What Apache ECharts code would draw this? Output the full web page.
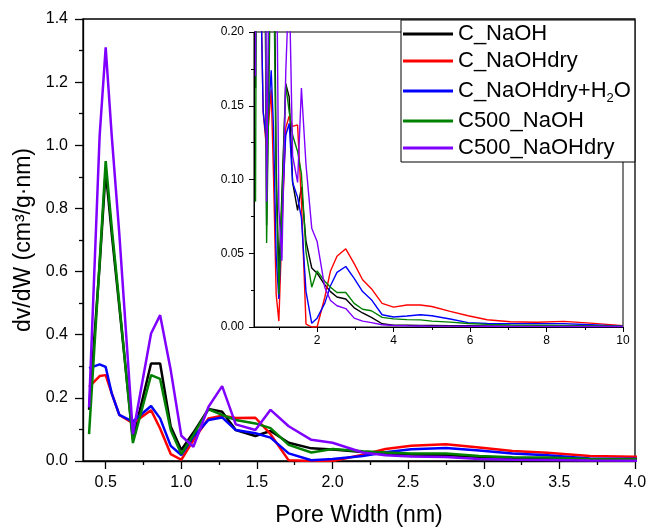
<!DOCTYPE html>
<html>
<head>
<meta charset="utf-8">
<script src="https://cdn.jsdelivr.net/npm/echarts@6.0.0/dist/echarts.min.js"></script>
<style>
  html, body { margin: 0; padding: 0; background: #fff; }
  #chart { width: 650px; height: 531px; }
</style>
</head>
<body>
<div id="chart"></div>
<script>
var myChart = echarts.init(document.getElementById('chart'));

var FONT = 'Liberation Sans, Arial, sans-serif';

// pore width grid (nm)
var poreWidth = [0.39, 0.46, 0.50, 0.54, 0.59, 0.68, 0.80, 0.86, 0.93, 1.00, 1.08, 1.18, 1.27, 1.36, 1.49, 1.59, 1.71, 1.86, 2.00,
    2.20, 2.35, 2.52, 2.75, 2.97, 3.19, 3.42, 3.70, 4.00, 4.35, 4.70, 5.00, 5.48, 5.95, 6.45, 7.05, 7.75, 8.45, 9.15, 10.0];

var seriesNames = ['C_NaOH', 'C_NaOHdry', 'C_NaOHdry+H2O', 'C500_NaOH', 'C500_NaOHdry'];
var seriesColors = ['#000000', '#ff0000', '#0000ff', '#008000', '#8000ff'];

var cNaOH = [0.162, 0.62, 0.92, 0.72, 0.49, 0.069, 0.309, 0.309, 0.109, 0.035, 0.09, 0.165, 0.156, 0.098, 0.079, 0.095, 0.058, 0.040, 0.0365,
    0.0286, 0.024, 0.0203, 0.019, 0.013, 0.0095, 0.0065, 0.0022, 0.0013, 0.0012, 0.001, 0.001, 0.0009, 0.0008, 0.0007, 0.0006, 0.0006, 0.0005, 0.0004, 0.0003];
var cNaOHdry = [0.235, 0.269, 0.272, 0.214, 0.146, 0.12, 0.161, 0.103, 0.022, 0.004, 0.066, 0.135, 0.143, 0.136, 0.137, 0.085, 0.002, 0.0, 0.0,
    0.02, 0.038, 0.048, 0.053, 0.043, 0.032, 0.026, 0.016, 0.0135, 0.0149, 0.0149, 0.0139, 0.0106, 0.0076, 0.0049, 0.0036, 0.0032, 0.0038, 0.0026, 0.0009];
var cNaOHdryH2O = [0.294, 0.306, 0.298, 0.214, 0.146, 0.125, 0.174, 0.135, 0.048, 0.019, 0.077, 0.13, 0.138, 0.098, 0.088, 0.074, 0.024, 0.0025, 0.006,
    0.016, 0.028, 0.037, 0.041, 0.033, 0.024, 0.0185, 0.0083, 0.0068, 0.0075, 0.0083, 0.0076, 0.0054, 0.003, 0.0024, 0.0023, 0.0023, 0.0023, 0.0015, 0.0005];
var c500NaOH = [0.085, 0.63, 0.95, 0.74, 0.50, 0.057, 0.272, 0.26, 0.098, 0.022, 0.083, 0.164, 0.146, 0.13, 0.119, 0.104, 0.051, 0.027, 0.038,
    0.031, 0.027, 0.0234, 0.0234, 0.016, 0.012, 0.011, 0.0065, 0.0055, 0.005, 0.0048, 0.004, 0.0033, 0.0024, 0.0018, 0.0014, 0.0012, 0.001, 0.0008, 0.0005];
var c500NaOHdry = [0.17, 1.03, 1.31, 1.03, 0.72, 0.085, 0.404, 0.462, 0.288, 0.08, 0.045, 0.172, 0.237, 0.116, 0.098, 0.162, 0.11, 0.067, 0.058,
    0.027, 0.018, 0.0144, 0.0125, 0.006, 0.004, 0.003, 0.0015, 0.001, 0.0008, 0.0007, 0.0006, 0.0006, 0.0005, 0.0005, 0.0004, 0.0004, 0.0003, 0.0003, 0.0003];

var seriesValues = [cNaOH, cNaOHdry, cNaOHdryH2O, c500NaOH, c500NaOHdry];

// tick positions
var mainMajorX = [0.5, 1.0, 1.5, 2.0, 2.5, 3.0, 3.5, 4.0];
var mainMinorX = [0.75, 1.25, 1.75, 2.25, 2.75, 3.25, 3.75];
var insetMajorX = [2, 4, 6, 8, 10];
var insetMinorX = [1, 3, 5, 7, 9];

function pairs(vals) {
    return poreWidth.map(function (x, i) { return [x, vals[i]]; });
}

var axisLineStyle = { color: '#000', width: 1.3 };
var insetLineStyle = { color: '#000', width: 1 };

var series = [];
// main plot
seriesNames.forEach(function (name, i) {
    series.push({
        name: name,
        type: 'line',
        xAxisIndex: 0,
        yAxisIndex: 0,
        data: pairs(seriesValues[i]),
        showSymbol: false,
        symbol: 'none',
        lineStyle: { color: seriesColors[i], width: 2.5 },
        itemStyle: { color: seriesColors[i] },
        z: 2 + i
    });
});
// inset (zoom on 0 - 0.2)
seriesNames.forEach(function (name, i) {
    series.push({
        name: name,
        type: 'line',
        xAxisIndex: 2,
        yAxisIndex: 1,
        data: pairs(seriesValues[i]),
        showSymbol: false,
        symbol: 'none',
        lineStyle: { color: seriesColors[i], width: 1.4 },
        itemStyle: { color: seriesColors[i] },
        z: 2 + i
    });
});

option = {
    animation: false,
    backgroundColor: '#fff',
    textStyle: { fontFamily: FONT },
    grid: [
        { left: 83, right: 15, top: 19, bottom: 70, show: true, borderColor: '#000', borderWidth: 1.3, outerBoundsMode: 'none' },
        { left: 254, right: 27, top: 32, bottom: 204, show: true, borderColor: '#000', borderWidth: 1, outerBoundsMode: 'none' }
    ],
    legend: {
        data: seriesNames,
        orient: 'vertical',
        left: 401,
        top: 20,
        icon: 'rect',
        itemWidth: 50,
        itemHeight: 3,
        itemGap: 5,
        padding: [3, 4, 3, 2],
        backgroundColor: '#fff',
        borderColor: '#000',
        borderWidth: 1,
        selectedMode: false,
        formatter: function (name) {
            if (name === 'C_NaOHdry+H2O') {
                return '{n|C_NaOHdry+H}{s|2}{n|O}';
            }
            return '{n|' + name + '}';
        },
        textStyle: {
            fontFamily: FONT,
            fontSize: 22,
            color: '#000',
            rich: {
                n: { fontFamily: FONT, fontSize: 22, lineHeight: 22, color: '#000' },
                s: { fontFamily: FONT, fontSize: 13, lineHeight: 13, padding: [15, 0, 0, 0], color: '#000' }
            }
        }
    },
    xAxis: [
        {
            gridIndex: 0, type: 'value', min: 0.35, max: 4, position: 'bottom',
            name: 'Pore Width (nm)', nameLocation: 'middle', nameGap: 43,
            nameTextStyle: { fontFamily: FONT, fontSize: 23, color: '#000' },
            axisLine: { lineStyle: axisLineStyle },
            axisTick: { show: true, inside: false, length: 8, lineStyle: axisLineStyle, customValues: mainMajorX },
            axisLabel: {
                customValues: mainMajorX, fontFamily: FONT, fontSize: 16, color: '#000', margin: 14,
                formatter: function (v) { return v.toFixed(1); }
            },
            splitLine: { show: false }
        },
        {
            gridIndex: 0, type: 'value', min: 0.35, max: 4, position: 'bottom',
            axisLine: { show: false },
            axisTick: { show: true, inside: false, length: 4, lineStyle: axisLineStyle, customValues: mainMinorX },
            axisLabel: { show: false },
            splitLine: { show: false }
        },
        {
            gridIndex: 1, type: 'value', min: 0.35, max: 10, position: 'bottom',
            axisLine: { lineStyle: insetLineStyle },
            axisTick: { show: true, inside: false, length: 5, lineStyle: insetLineStyle, customValues: insetMajorX },
            axisLabel: { customValues: insetMajorX, fontFamily: FONT, fontSize: 12, color: '#000', margin: 8 },
            splitLine: { show: false }
        },
        {
            gridIndex: 1, type: 'value', min: 0.35, max: 10, position: 'bottom',
            axisLine: { show: false },
            axisTick: { show: true, inside: false, length: 3, lineStyle: insetLineStyle, customValues: insetMinorX },
            axisLabel: { show: false },
            splitLine: { show: false }
        }
    ],
    yAxis: [
        {
            gridIndex: 0, type: 'value', min: 0, max: 1.4, interval: 0.2,
            name: 'dv/dW (cm³/g·nm)', nameLocation: 'middle', nameGap: 44,
            nameTextStyle: { fontFamily: FONT, fontSize: 23, color: '#000' },
            axisLine: { show: true, lineStyle: axisLineStyle },
            axisTick: { show: true, inside: false, length: 8, lineStyle: axisLineStyle },
            minorTick: { show: true, splitNumber: 2, length: 4, lineStyle: axisLineStyle },
            axisLabel: {
                fontFamily: FONT, fontSize: 16, color: '#000', margin: 15,
                formatter: function (v) { return v.toFixed(1); }
            },
            splitLine: { show: false }
        },
        {
            gridIndex: 1, type: 'value', min: 0, max: 0.2, interval: 0.05,
            axisLine: { show: true, lineStyle: insetLineStyle },
            axisTick: { show: true, inside: false, length: 5, lineStyle: insetLineStyle },
            minorTick: { show: true, splitNumber: 2, length: 3, lineStyle: insetLineStyle },
            axisLabel: {
                fontFamily: FONT, fontSize: 12, color: '#000', margin: 10,
                formatter: function (v) { return v.toFixed(2); }
            },
            splitLine: { show: false }
        }
    ],
    series: series
};
myChart.setOption(option);
</script>
</body>
</html>
